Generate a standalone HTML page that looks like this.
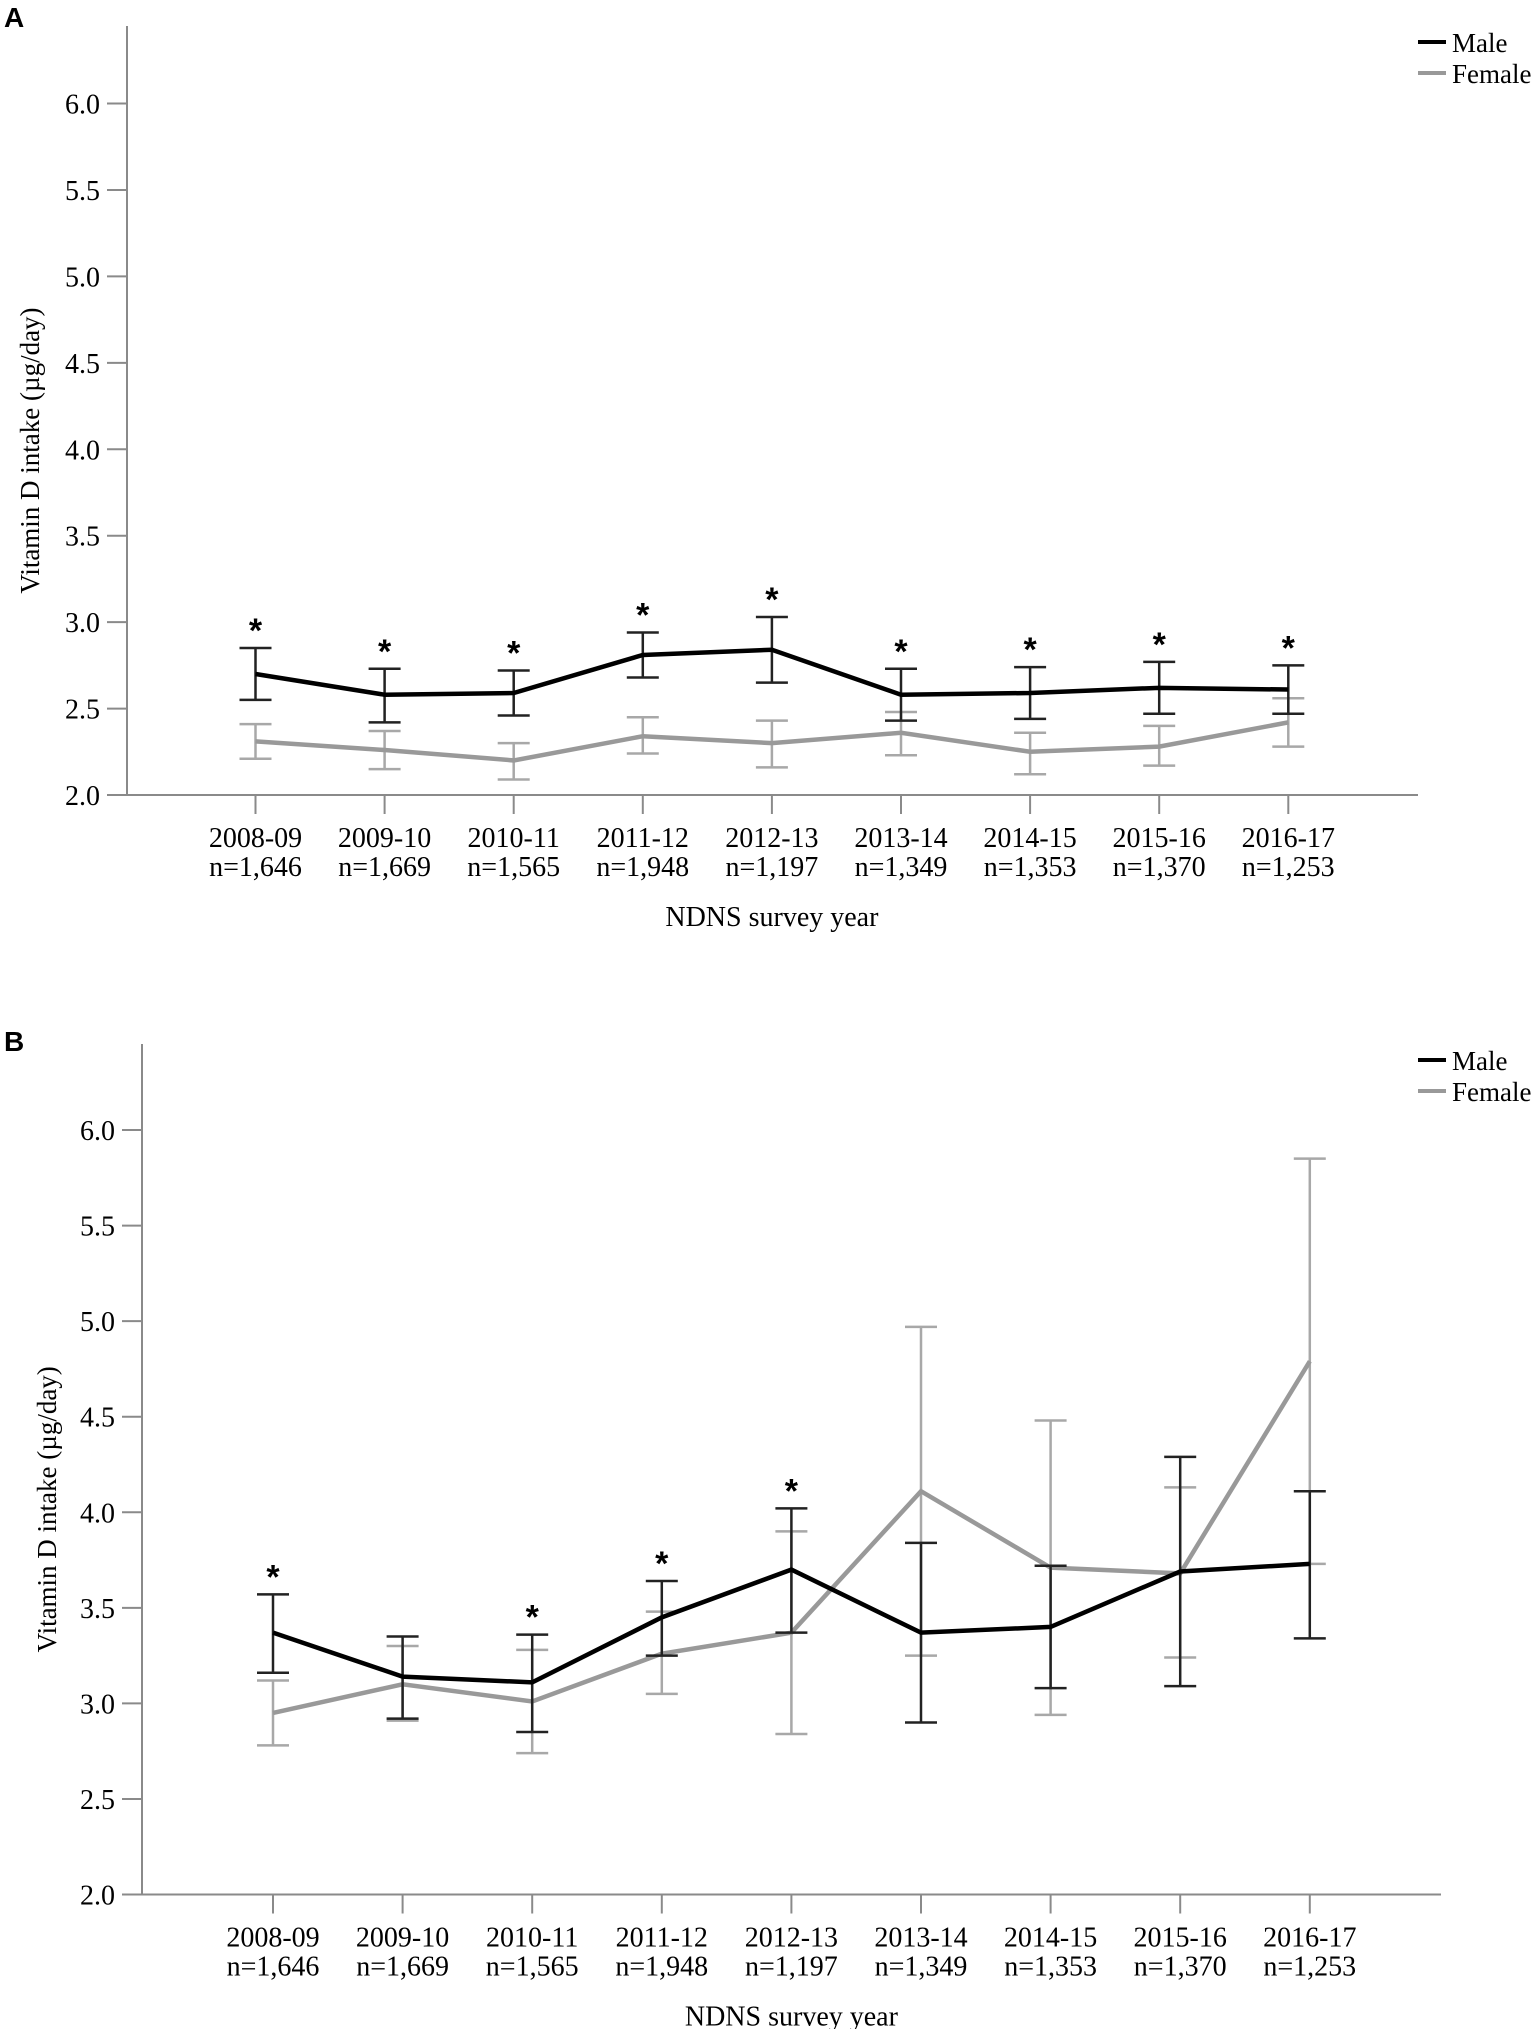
<!DOCTYPE html>
<html><head><meta charset="utf-8"><style>
html,body{margin:0;padding:0;background:#fff;}
svg{display:block;}
text{font-family:"Liberation Serif",serif;fill:#000;}
</style></head><body>
<svg id="chart" width="1535" height="2029" viewBox="0 0 1535 2029" xmlns="http://www.w3.org/2000/svg">
<text x="4" y="27" style="font-family:'Liberation Sans',sans-serif;font-weight:bold;font-size:28px">A</text>
<text x="4" y="1051" style="font-family:'Liberation Sans',sans-serif;font-weight:bold;font-size:28px">B</text>
<g id="pa"></g>
<g id="pb"></g>
</svg>
<script>
const years = ["2008-09","2009-10","2010-11","2011-12","2012-13","2013-14","2014-15","2015-16","2016-17"];
const nLabels = ["n=1,646","n=1,669","n=1,565","n=1,948","n=1,197","n=1,349","n=1,353","n=1,370","n=1,253"];
const yTicks = [2.0,2.5,3.0,3.5,4.0,4.5,5.0,5.5,6.0];
// Panel A
const aMale = [2.70,2.58,2.59,2.81,2.84,2.58,2.59,2.62,2.61];
const aMaleHi = [2.85,2.73,2.72,2.94,3.03,2.73,2.74,2.77,2.75];
const aMaleLo = [2.55,2.42,2.46,2.68,2.65,2.43,2.44,2.47,2.47];
const aFemale = [2.31,2.26,2.20,2.34,2.30,2.36,2.25,2.28,2.42];
const aFemaleHi = [2.41,2.37,2.30,2.45,2.43,2.48,2.36,2.40,2.56];
const aFemaleLo = [2.21,2.15,2.09,2.24,2.16,2.23,2.12,2.17,2.28];
const aStars = [1,1,1,1,1,1,1,1,1];
// Panel B
const bMale = [3.37,3.14,3.11,3.45,3.70,3.37,3.40,3.69,3.73];
const bMaleHi = [3.57,3.35,3.36,3.64,4.02,3.84,3.72,4.29,4.11];
const bMaleLo = [3.16,2.92,2.85,3.25,3.37,2.90,3.08,3.09,3.34];
const bFemale = [2.95,3.10,3.01,3.26,3.37,4.11,3.71,3.68,4.79];
const bFemaleHi = [3.12,3.30,3.28,3.48,3.90,4.97,4.48,4.13,5.85];
const bFemaleLo = [2.78,2.91,2.74,3.05,2.84,3.25,2.94,3.24,3.73];
const bStars = [1,0,1,1,1,0,0,0,0];

const NS="http://www.w3.org/2000/svg";
function mk(parent,tag,attrs,txt){const e=document.createElementNS(NS,tag);for(const k in attrs)e.setAttribute(k,attrs[k]);if(txt!==undefined)e.textContent=txt;parent.appendChild(e);return e;}

function panel(g,cfg,male,maleHi,maleLo,fem,femHi,femLo,stars){
  const ax=cfg.ax, y2=cfg.y2, y6=cfg.y6, top=cfg.top, right=cfg.right;
  const yS=v=>y2-(v-2)*(y2-y6)/4;
  const xS=i=>cfg.x0+i*cfg.dx;
  let e=mk(g,'line',{x1:ax,y1:top,x2:ax,y2:y2,stroke:'#8a8a8a','stroke-width':2});
  
  
  e=mk(g,'line',{x1:ax,y1:y2,x2:right,y2:y2,stroke:'#8a8a8a','stroke-width':2});
  
  
  yTicks.forEach(t=>{
    const y=yS(t);
    const l=mk(g,'line',{x1:ax-20,y1:y,x2:ax,y2:y,stroke:'#8a8a8a','stroke-width':2});
    
    
    const tx=mk(g,'text',{x:ax-27,y:y+10,'text-anchor':'end','font-size':28},t.toFixed(1));
    
    
  });
  years.forEach((yr,i)=>{
    const x=xS(i);
    const l=mk(g,'line',{x1:x,y1:y2,x2:x,y2:y2+19,stroke:'#8a8a8a','stroke-width':2});
    
    
    const t1=mk(g,'text',{x:x,y:y2+52,'text-anchor':'middle','font-size':28},yr);
    
    
    const t2=mk(g,'text',{x:x,y:y2+81,'text-anchor':'middle','font-size':28},nLabels[i]);
    
    
  });
  const xt=mk(g,'text',{x:xS(4),y:y2+131,'text-anchor':'middle','font-size':28},'NDNS survey year');
  
  
  const yc=(top+y2)/2+40;
  const yt=mk(g,'text',{x:cfg.titleX,y:yc,'text-anchor':'middle','font-size':27,transform:'rotate(-90 '+cfg.titleX+' '+yc+')'},'Vitamin D intake (µg/day)');
  
  
  function series(vals,hi,lo,col,ecol,name){
    hi.forEach((h,i)=>{
      const x=xS(i);
      const eb=mk(g,'path',{d:`M${x-16},${yS(h)}H${x+16}M${x},${yS(h)}V${yS(lo[i])}M${x-16},${yS(lo[i])}H${x+16}`,stroke:ecol,'stroke-width':2.5,fill:'none'});
      
      
    });
    const pts=vals.map((v,i)=>xS(i)+','+yS(v)).join(' ');
    const pl=mk(g,'polyline',{points:pts,stroke:col,'stroke-width':4.5,fill:'none','stroke-linejoin':'miter'});
    
    
  }
  series(fem,femHi,femLo,'#999','#a8a8a8','female');
  series(male,maleHi,maleLo,'#000','#222','male');
  stars.forEach((s,i)=>{
    if(!s)return;
    const st=mk(g,'text',{x:xS(i),y:yS(maleHi[i])-25+19,'text-anchor':'middle','font-size':34,style:"font-family:'Liberation Sans',sans-serif;font-weight:bold"},'*');
    
    
  });
  const lm=mk(g,'line',{x1:1418,y1:cfg.leg,x2:1446,y2:cfg.leg,stroke:'#000','stroke-width':4});
  
  
  const tm=mk(g,'text',{x:1452,y:cfg.leg+10,'font-size':27},'Male');
  
  
  const lf=mk(g,'line',{x1:1418,y1:cfg.leg+31,x2:1446,y2:cfg.leg+31,stroke:'#999','stroke-width':4});
  
  
  const tf=mk(g,'text',{x:1452,y:cfg.leg+41,'font-size':27},'Female');
  
  
}
panel(document.getElementById('pa'),{ax:127,y2:795,y6:103.5,top:26,right:1418,x0:255.5,dx:129.1,titleX:39,leg:42},aMale,aMaleHi,aMaleLo,aFemale,aFemaleHi,aFemaleLo,aStars);
panel(document.getElementById('pb'),{ax:142,y2:1894.5,y6:1130,top:1044,right:1441,x0:273,dx:129.6,titleX:56,leg:1060},bMale,bMaleHi,bMaleLo,bFemale,bFemaleHi,bFemaleLo,bStars);
</script>
</body></html>
